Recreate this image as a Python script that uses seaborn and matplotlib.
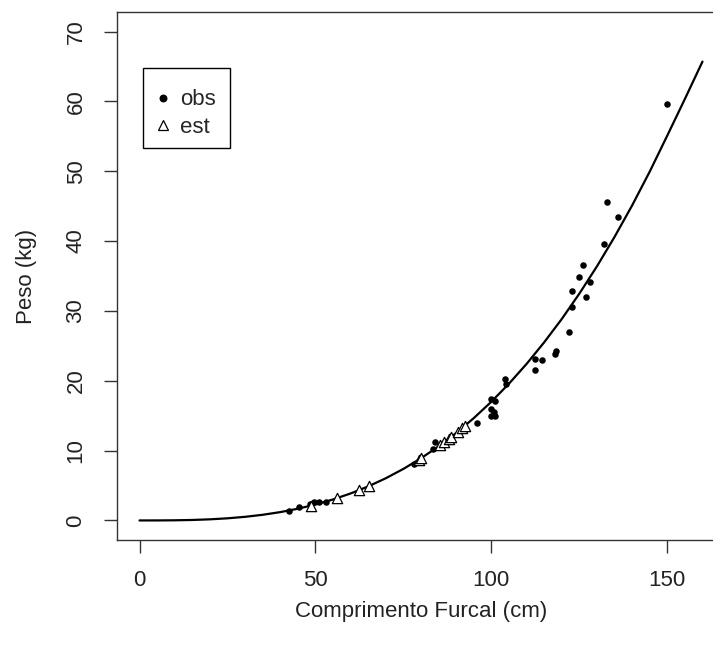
import matplotlib
matplotlib.use("Agg")
import matplotlib.pyplot as plt
from matplotlib.lines import Line2D
from matplotlib.patches import Rectangle
import seaborn as sns
import pandas as pd

# ---- data ----
obs_len = [42.4, 45.3, 48.5, 49.5, 51.0, 53.0, 78.0, 84.1, 83.5, 86.0, 88.0,
           92.6, 95.9, 99.9, 101.1, 99.9, 100.7, 99.9, 101.1, 104.0, 104.3,
           112.3, 112.5, 114.4, 118.2, 118.5, 122.2, 122.9, 122.9, 124.9,
           126.0, 126.9, 128.1, 132.1, 132.9, 136.0, 149.9]
obs_wt = [1.3, 1.9, 2.4, 2.6, 2.6, 2.6, 8.1, 11.2, 10.2, 10.9, 11.5,
          13.1, 14.0, 17.4, 17.1, 16.0, 15.5, 15.0, 15.0, 20.2, 19.5,
          21.6, 23.1, 23.0, 23.8, 24.2, 27.0, 30.6, 32.8, 34.8,
          36.6, 32.0, 34.2, 39.6, 45.6, 43.4, 59.6]

est_len = [48.6, 56.2, 62.3, 65.2, 79.4, 80.0, 85.5, 86.5, 87.9, 88.5, 90.5, 91.7, 92.5]
est_wt = [2.1, 3.2, 4.3, 4.9, 8.7, 8.9, 10.8, 11.2, 11.7, 11.9, 12.7, 13.2, 13.5]

curve_len = [0, 5, 10, 15, 20, 25, 30, 35, 40, 45, 50, 55, 60, 65, 70, 75, 80,
             85, 90, 95, 100, 105, 110, 115, 120, 125, 130, 135, 140, 145,
             150, 155, 160]
curve_wt = [0.0, 0.003, 0.021, 0.069, 0.160, 0.305, 0.518, 0.810, 1.193, 1.678,
            2.278, 3.003, 3.865, 4.874, 6.043, 7.381, 8.901, 10.61, 12.52,
            14.65, 17.00, 19.58, 22.41, 25.50, 28.84, 32.47, 36.38, 40.59,
            45.10, 49.94, 55.11, 60.35, 65.70]

x_ticks = [0, 50, 100, 150]
y_ticks = [0, 10, 20, 30, 40, 50, 60, 70]
x_label = "Comprimento Furcal (cm)"
y_label = "Peso (kg)"
legend_labels = ["obs", "est"]

obs_df = pd.DataFrame({"L": obs_len, "W": obs_wt})
est_df = pd.DataFrame({"L": est_len, "W": est_wt})
curve_df = pd.DataFrame({"L": curve_len, "W": curve_wt})

sns.set_style("white")
plt.rcParams["font.family"] = ["Liberation Sans", "DejaVu Sans"]

W, H = 713, 650
fig = plt.figure(figsize=(W / 100, H / 100), dpi=100)
ax = fig.add_axes([117 / W, (H - 540) / H, (725 - 117) / W, (540 - 12) / H])

sns.lineplot(data=curve_df, x="L", y="W", ax=ax, color="black", linewidth=1.6,
             sort=True, estimator=None)
sns.scatterplot(data=obs_df, x="L", y="W", ax=ax, color="black", s=22,
                marker="o", edgecolor="black", linewidth=0, zorder=3)
sns.scatterplot(data=est_df, x="L", y="W", ax=ax, marker="^", s=55,
                facecolor="white", edgecolor="black", linewidth=0.9, zorder=4)

ax.set_xlim(-6.4, 166.4)
ax.set_ylim(-2.8, 72.8)
ax.set_xticks(x_ticks)
ax.set_yticks(y_ticks)
ax.set_xticklabels([str(t) for t in x_ticks], fontsize=16, color="#222222")
ax.set_yticklabels([str(t) for t in y_ticks], fontsize=16, color="#222222",
                   rotation=90, va="center")
ax.tick_params(axis="both", direction="out", length=9.4, width=1.0,
               color="#333333", bottom=True, left=True)
ax.tick_params(axis="x", pad=12)
ax.tick_params(axis="y", pad=12.5)

for side in ["left", "bottom", "top", "right"]:
    ax.spines[side].set_visible(True)
    ax.spines[side].set_color("#333333")
    ax.spines[side].set_linewidth(1.0)

ax.set_xlabel(x_label, fontsize=16, color="#222222", va="center")
ax.set_ylabel(y_label, fontsize=16, color="#222222", va="center", ha="center")
ax.xaxis.set_label_coords(0.5, (540 - 612) / 528)
ax.yaxis.set_label_coords((26 - 117) / 608, 0.5)

# legend box (drawn as a frame) and entries
fig.add_artist(Rectangle((143 / W, 1 - 148 / H), (230 - 143) / W, (148 - 68) / H,
                         transform=fig.transFigure, fill=False,
                         edgecolor="black", linewidth=1.0, zorder=5))
handles = [
    Line2D([], [], linestyle="none", marker="o", markersize=4.7,
           markerfacecolor="black", markeredgecolor="black"),
    Line2D([], [], linestyle="none", marker="^", markersize=7,
           markerfacecolor="white", markeredgecolor="black", markeredgewidth=0.9),
]
leg = ax.legend(handles, legend_labels, loc="upper left",
                bbox_to_anchor=(159.7 / W, 1 - 89.3 / H), bbox_transform=fig.transFigure,
                borderaxespad=0, fontsize=16, frameon=False,
                borderpad=0, handlelength=0.3, handletextpad=0.61,
                labelspacing=0.28)

fig.savefig("out.png", dpi=100)
